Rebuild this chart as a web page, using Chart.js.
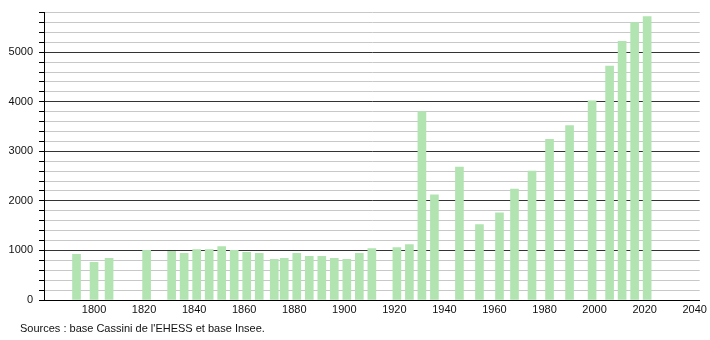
<!DOCTYPE html>
<html>
<head>
<meta charset="utf-8">
<script src="https://cdn.jsdelivr.net/npm/chart.js@4/dist/chart.umd.min.js"></script>
<style>
  html, body { margin: 0; padding: 0; background: #fff; }
  #wrap { position: relative; width: 710px; height: 340px; }
  #src { position: absolute; left: 20px; top: 322px; font: 11px "Liberation Sans", Arial, sans-serif; color: #111; white-space: nowrap; }
</style>
</head>
<body>
<div id="wrap">
  <canvas id="c" width="710" height="340"></canvas>
  <div id="src">Sources : base Cassini de l'EHESS et base Insee.</div>
</div>
<script>
const years = [1793, 1800, 1806, 1821, 1831, 1836, 1841, 1846, 1851, 1856, 1861, 1866, 1872, 1876, 1881, 1886, 1891, 1896, 1901, 1906, 1911, 1921, 1926, 1931, 1936, 1946, 1954, 1962, 1968, 1975, 1982, 1990, 1999, 2006, 2011, 2016, 2021];
const population = [920, 760, 840, 1000, 980, 940, 1020, 1020, 1080, 1000, 960, 940, 820, 840, 940, 880, 880, 840, 820, 940, 1040, 1060, 1120, 3800, 2120, 2680, 1520, 1760, 2240, 2600, 3240, 3520, 4020, 4720, 5220, 5600, 5720];
const yLabelStep = 1000;
const yGridStep = 200;
const xLabelStep = 20;

const points = years.map((y, i) => ({ x: y, y: population[i] }));

new Chart(document.getElementById('c'), {
  type: 'bar',
  data: {
    datasets: [{
      data: points,
      backgroundColor: 'rgb(178,228,178)',
      borderWidth: 0,
      barThickness: 8
    }]
  },
  options: {
    responsive: false,
    animation: false,
    layout: { padding: { left: 0, right: 9, top: 10, bottom: 0 } },
    plugins: { legend: { display: false }, tooltip: { enabled: false } },
    scales: {
      x: {
        type: 'linear',
        min: 1780,
        max: 2042,
        offset: false,
        grid: { display: false, drawTicks: false },
        border: { display: true, color: '#000', width: 1 },
        ticks: {
          stepSize: xLabelStep,
          includeBounds: false,
          autoSkip: false,
          maxRotation: 0,
          padding: 3,
          color: '#111',
          font: { family: '"Liberation Sans", Arial, sans-serif', size: 11 },
          callback: v => (v % xLabelStep === 0 && v !== 1780) ? String(v) : ''
        },
        afterFit: s => { s.height = 40; }
      },
      y: {
        min: 0,
        max: 5800,
        grid: {
          color: c => (c.tick && c.tick.value % yLabelStep === 0) ? '#333' : '#c8c8c8',
          tickColor: '#000',
          tickLength: 5,
          drawTicks: true
        },
        border: { display: true, color: '#000', width: 1 },
        ticks: {
          stepSize: yGridStep,
          autoSkip: false,
          padding: 6,
          color: '#111',
          font: { family: '"Liberation Sans", Arial, sans-serif', size: 11 },
          callback: v => (v % yLabelStep === 0) ? String(v) : ''
        },
        afterFit: s => { s.width = 44; }
      }
    }
  }
});
</script>
</body>
</html>
